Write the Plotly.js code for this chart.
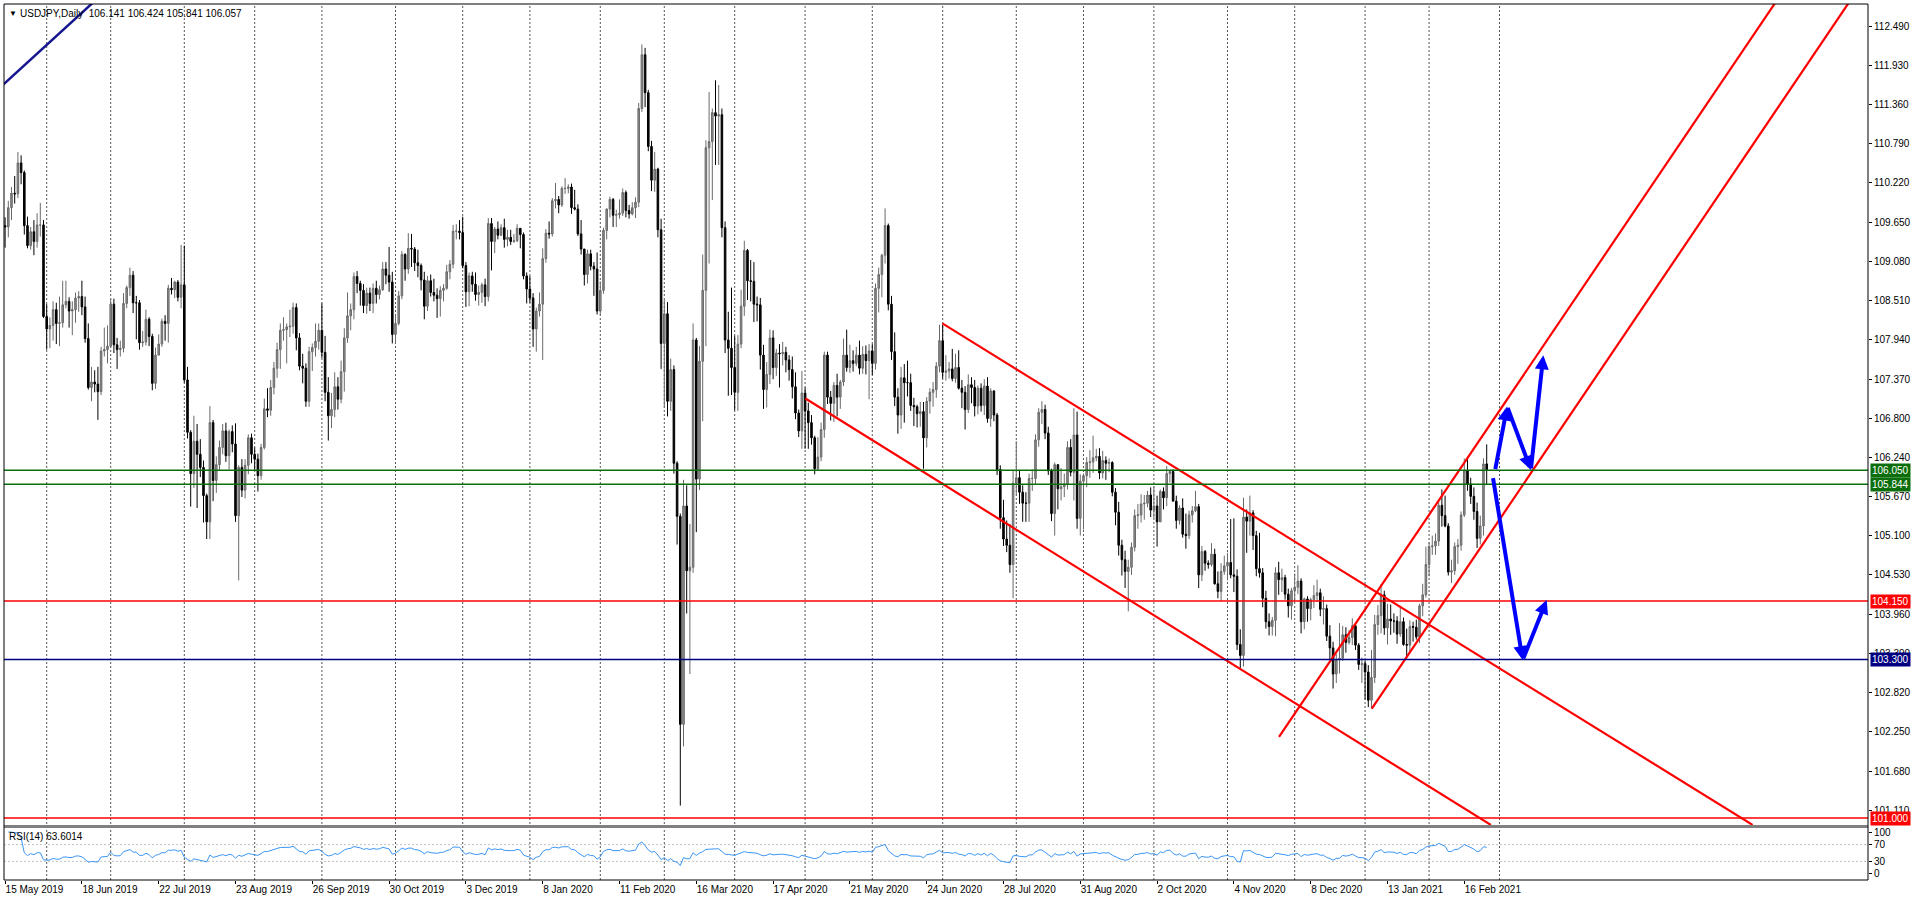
<!DOCTYPE html>
<html><head><meta charset="utf-8">
<script src="https://cdn.plot.ly/plotly-3.0.1.min.js"></script>
<style>html,body{margin:0;padding:0;background:#fff;overflow:hidden}#chart{width:1919px;height:901px}</style>
</head><body><div id="chart"></div>
<script>
// ---------- DATA (USDJPY Daily, bar index 0 = 15 May 2019) ----------
const opens = [
109.60,109.58,109.86,110.07,110.06,110.51,110.37,109.60,109.31,109.51,109.37,109.61,109.61,
108.28,108.10,108.15,108.38,108.18,108.19,108.45,108.50,108.36,108.38,108.55,108.57,108.42,107.96,107.25,107.33,107.30,107.19,107.78,107.80,
107.85,108.46,107.87,107.80,107.82,108.47,108.70,108.88,108.48,108.48,107.90,107.91,108.24,107.99,107.31,107.72,107.88,108.21,108.18,108.69,108.67,108.78,108.56,
108.74,107.36,106.60,106.00,106.47,106.28,106.09,105.68,105.30,106.74,105.90,106.13,106.38,106.62,106.26,106.61,106.43,105.39,106.09,105.76,106.12,106.52,
106.28,106.21,105.97,106.38,106.94,106.92,107.25,107.53,107.80,108.08,108.09,108.13,108.14,108.41,107.97,107.56,107.53,107.05,107.77,107.83,107.92,
108.08,107.76,107.18,106.84,106.93,107.26,107.08,107.48,107.97,108.29,108.38,108.86,108.76,108.66,108.44,108.62,108.47,108.69,108.60,108.67,108.97,108.88,108.78,
108.02,108.18,108.58,109.18,108.97,109.27,109.26,109.06,109.02,108.81,108.43,108.80,108.63,108.59,108.54,108.66,108.69,108.93,109.04,109.52,109.52,
109.50,109.02,108.64,108.87,108.75,108.60,108.63,108.74,108.57,109.63,109.37,109.55,109.46,109.57,109.40,109.43,109.37,109.38,109.56,109.47,108.87,
108.68,108.55,108.10,108.36,108.46,109.12,109.49,109.48,109.96,109.98,109.90,110.14,110.14,110.16,109.86,109.84,109.48,109.26,108.89,109.19,109.01,108.97,
108.36,108.66,109.53,109.84,109.98,109.75,109.76,109.78,110.08,109.82,109.77,109.86,109.94,111.30,112.08,111.53,110.75,110.26,110.42,109.54,
107.89,108.32,107.05,107.51,106.15,105.38,102.36,105.53,104.59,104.64,107.94,105.92,107.63,108.66,110.73,110.82,111.24,111.19,111.21,109.57,107.94,107.82,
107.54,107.18,107.88,108.43,109.24,108.80,108.79,108.46,108.45,107.72,107.22,107.44,107.97,107.54,107.75,107.74,107.76,107.65,107.51,107.26,106.88,106.62,
107.17,106.91,106.74,106.52,106.07,106.24,106.64,107.72,107.11,107.02,107.28,107.11,107.33,107.72,107.54,107.64,107.60,107.72,107.53,107.73,107.64,
107.78,107.60,108.69,108.89,109.17,109.60,108.46,107.77,107.11,106.85,107.39,107.32,107.32,106.99,106.97,106.87,106.90,106.52,107.05,107.18,107.22,107.56,
107.93,107.47,107.49,107.52,107.38,107.54,107.24,107.18,106.93,107.29,107.25,106.98,107.24,106.99,107.27,106.80,107.20,106.85,106.06,105.36,105.05,104.96,104.68,
105.86,105.94,105.73,105.57,105.57,105.93,105.93,106.49,106.89,106.93,106.59,106.04,105.42,106.13,105.78,105.81,105.85,106.38,106.02,106.56,105.35,
105.89,105.97,106.16,106.17,106.23,106.25,106.01,106.19,106.15,106.16,105.73,105.44,104.96,104.75,104.58,104.64,104.93,105.39,105.40,105.56,105.57,105.69,
105.47,105.53,105.30,105.74,105.65,106.00,106.03,105.60,105.32,105.50,105.12,105.10,105.40,105.46,105.52,104.53,104.87,104.70,104.68,104.83,104.40,104.29,104.58,
104.66,104.71,104.53,104.51,103.52,103.36,105.37,105.31,105.43,105.10,104.62,104.56,104.19,103.85,103.78,103.87,104.56,104.46,104.49,104.25,104.08,
104.30,104.35,104.44,103.85,104.18,104.04,104.17,104.23,104.27,104.03,104.04,103.64,103.47,103.09,103.30,103.32,103.66,103.55,103.62,103.79,103.51,103.23,
103.24,103.12,102.71,103.04,103.81,103.94,104.24,103.76,103.89,103.86,103.86,103.67,103.85,103.52,103.51,103.78,103.77,103.63,104.08,104.24,
104.68,104.94,104.95,105.02,105.54,105.39,105.24,104.57,104.59,104.94,104.96,105.40,106.04,105.85,105.67,105.45,105.06,105.24,106.141];

const highs = [
109.72,109.96,110.16,110.32,110.67,110.62,110.40,109.73,109.58,109.68,109.78,109.93,109.68,
108.46,108.27,108.50,108.48,108.57,108.80,108.80,108.56,108.50,108.63,108.65,108.80,108.57,108.18,107.55,107.50,107.55,107.84,108.12,108.15,
108.54,108.54,107.97,107.93,108.62,108.73,108.99,108.94,108.58,108.52,108.07,108.38,108.27,108.03,107.83,108.02,108.25,108.30,108.74,108.84,108.80,108.81,109.32,
109.31,107.55,106.63,106.84,106.72,106.50,106.19,105.71,106.98,106.78,106.25,106.48,106.72,106.74,106.64,106.70,106.73,106.12,106.21,106.21,106.57,106.58,
106.38,106.29,106.43,107.09,107.24,107.36,107.62,107.90,108.18,108.27,108.18,108.38,108.48,108.47,108.04,107.74,107.60,107.84,107.89,108.18,108.18,
108.47,108.00,107.40,107.17,107.47,107.40,107.64,108.11,108.63,108.47,108.92,108.94,108.80,108.75,108.70,108.70,108.76,108.80,108.73,109.07,109.07,109.29,108.93,
108.30,108.65,109.23,109.20,109.49,109.48,109.29,109.25,109.05,108.93,108.87,108.89,108.83,108.69,108.72,108.75,109.03,109.10,109.61,109.62,109.68,
109.73,109.07,108.92,108.93,108.92,108.73,108.77,108.83,109.71,109.71,109.58,109.66,109.62,109.70,109.54,109.54,109.48,109.62,109.56,109.50,108.92,
108.87,108.62,108.41,108.63,109.27,109.55,109.66,110.00,110.22,110.03,110.17,110.29,110.20,110.21,110.12,109.91,109.68,109.26,109.25,109.25,109.07,109.21,
108.79,109.57,109.85,110.02,110.00,109.83,109.98,110.14,110.11,109.90,109.94,110.01,111.38,112.23,112.18,111.57,110.83,110.67,110.44,109.70,
108.52,108.49,107.67,107.57,106.18,105.42,105.91,105.83,105.27,108.18,107.97,107.85,109.18,110.84,111.54,111.30,111.71,111.64,111.30,109.66,108.35,108.70,
108.00,108.01,108.67,109.38,109.26,109.10,109.07,108.57,108.55,107.87,107.62,108.09,108.08,107.81,107.88,107.91,107.84,107.72,107.70,107.47,106.93,107.49,
107.25,107.03,106.85,106.55,106.53,106.74,107.77,107.77,107.20,107.33,107.45,107.36,107.96,108.09,107.87,107.79,107.84,107.93,107.85,107.86,107.88,
107.88,108.76,108.99,109.19,109.85,109.63,108.58,108.05,107.24,107.55,107.59,107.64,107.45,107.10,107.00,107.04,107.04,107.11,107.24,107.33,107.62,108.16,
108.16,107.72,107.62,107.81,107.74,107.79,107.36,107.27,107.44,107.40,107.36,107.28,107.31,107.37,107.40,107.24,107.21,106.88,106.12,105.62,105.32,105.27,106.05,
106.47,106.05,105.83,105.73,106.00,106.06,106.57,106.95,107.05,107.00,106.68,106.07,106.16,106.13,106.08,106.00,106.47,106.50,106.95,106.90,105.99,
106.00,106.24,106.34,106.55,106.36,106.37,106.33,106.25,106.22,106.18,105.79,105.59,105.04,104.88,104.75,105.00,105.48,105.56,105.70,105.69,105.75,105.80,
105.81,105.68,105.77,105.80,106.11,106.05,106.06,105.68,105.54,105.64,105.42,105.46,105.53,105.75,105.56,104.95,104.89,104.74,104.99,104.91,104.58,104.70,104.81,
104.85,105.34,105.35,104.61,103.74,105.65,105.48,105.68,105.47,105.17,105.14,104.63,104.30,103.97,103.92,104.64,104.72,104.62,104.53,104.33,104.34,
104.55,104.67,104.48,104.20,104.22,104.20,104.38,104.46,104.33,104.22,104.10,103.80,103.56,103.38,103.83,103.79,103.77,103.73,103.90,103.81,103.54,103.33,
103.29,103.22,103.44,103.95,104.09,104.40,104.30,104.11,104.10,103.97,103.93,104.08,103.91,103.75,103.87,103.85,103.88,104.11,104.40,104.94,
105.00,105.10,105.13,105.59,105.77,105.68,105.28,104.75,105.00,105.05,105.45,106.22,106.22,105.94,105.80,105.58,105.39,106.22,106.424];

const lows = [
109.28,109.43,109.68,109.92,110.00,110.20,109.47,109.27,109.25,109.17,109.28,109.44,108.26,
107.80,107.82,107.93,107.88,107.85,108.12,108.40,108.12,108.01,108.19,108.35,108.30,107.90,107.22,107.05,107.18,106.78,107.14,107.70,107.60,
107.83,107.75,107.52,107.70,107.76,108.40,108.58,108.33,107.95,107.80,107.84,107.86,107.85,107.21,107.23,107.72,107.84,107.93,107.90,108.60,108.55,108.50,108.40,
107.32,106.51,105.52,105.79,105.50,105.95,105.29,105.05,105.05,105.60,105.72,106.04,106.28,106.17,106.06,106.31,105.30,104.45,105.66,105.64,105.99,106.15,
106.05,105.74,105.91,106.35,106.82,106.84,107.15,107.39,107.52,107.93,107.60,107.98,108.03,107.79,107.50,107.31,106.97,106.97,107.49,107.70,107.80,
107.68,107.05,106.48,106.66,106.82,106.93,107.02,107.19,107.90,108.08,108.24,108.62,108.44,108.33,108.32,108.36,108.33,108.47,108.53,108.65,108.75,108.64,107.89,
107.89,108.15,108.53,108.80,108.90,109.00,108.94,108.85,108.66,108.24,108.36,108.57,108.50,108.26,108.28,108.50,108.67,108.82,108.98,109.40,109.40,
108.98,108.42,108.43,108.64,108.51,108.44,108.48,108.43,108.50,108.95,109.20,109.40,109.45,109.28,109.30,109.32,109.35,109.36,109.27,108.82,108.47,
108.48,107.84,107.77,108.28,107.65,109.06,109.41,109.44,109.85,109.78,109.87,110.06,110.07,109.77,109.82,109.45,109.18,108.73,108.76,108.95,108.58,108.31,
108.30,108.61,109.40,109.72,109.58,109.58,109.70,109.74,109.72,109.70,109.75,109.71,109.87,111.25,111.32,110.68,110.10,110.09,109.43,107.52,
106.96,106.83,106.91,106.00,104.97,101.18,102.04,103.97,103.09,104.56,105.15,105.76,106.76,107.85,109.05,109.97,110.48,110.48,109.43,107.75,107.13,107.14,
106.92,106.91,107.82,108.29,108.52,108.50,108.20,108.21,107.51,106.94,106.96,107.30,107.37,107.42,107.25,107.57,107.47,107.35,107.09,106.79,106.53,106.36,
106.36,106.36,106.42,105.99,106.05,106.18,106.52,107.01,106.77,106.75,106.83,106.94,107.27,107.48,107.46,107.48,107.56,107.44,107.45,107.44,107.08,
107.43,107.51,108.34,108.56,109.05,108.37,107.65,106.98,106.58,106.65,106.74,107.12,106.91,106.69,106.67,106.68,106.07,106.38,106.87,106.97,107.10,107.47,
107.38,107.35,107.38,107.34,107.32,107.22,106.95,106.64,106.88,107.02,106.83,106.86,106.90,106.85,106.74,106.68,106.76,105.98,105.20,104.95,104.86,104.56,104.19,
105.69,105.56,105.30,105.30,105.30,105.75,105.84,106.39,106.72,106.50,105.98,105.31,105.10,105.48,105.61,105.66,105.77,105.96,105.61,105.20,105.10,
105.19,105.80,105.94,106.01,106.18,105.92,105.93,105.91,106.02,105.67,105.25,104.81,104.52,104.34,104.00,104.53,104.87,105.20,105.29,105.33,105.51,105.37,
105.35,104.94,105.30,105.48,105.53,105.87,105.60,105.20,105.26,105.07,104.91,105.05,105.29,105.44,104.34,104.44,104.59,104.62,104.65,104.39,104.19,104.15,104.53,
104.45,104.48,104.28,103.44,103.18,103.20,104.85,105.10,104.89,104.51,104.49,104.06,103.75,103.65,103.65,103.64,104.24,104.28,104.17,103.91,103.88,
104.13,104.25,103.68,103.74,103.85,103.87,104.05,104.14,103.93,103.81,103.57,103.31,102.88,102.96,103.10,103.28,103.40,103.52,103.51,103.44,103.15,102.96,
102.72,102.61,102.59,102.96,103.66,103.68,103.66,103.52,103.66,103.69,103.53,103.63,103.50,103.33,103.42,103.56,103.59,103.54,103.93,104.20,
104.51,104.82,104.82,104.95,105.23,105.22,104.52,104.41,104.53,104.69,104.88,105.37,105.75,105.56,105.33,104.92,104.97,105.10,105.841];

const closes = [
109.58,109.86,110.07,110.06,110.51,110.37,109.60,109.31,109.51,109.37,109.61,109.61,108.28,
108.10,108.15,108.38,108.18,108.19,108.45,108.50,108.36,108.38,108.55,108.57,108.42,107.96,107.25,107.33,107.30,107.19,107.78,107.80,107.85,
108.46,107.87,107.80,107.82,108.47,108.70,108.88,108.48,108.48,107.90,107.91,108.24,107.99,107.31,107.72,107.88,108.21,108.18,108.69,108.67,108.78,108.56,108.74,
107.36,106.60,106.00,106.47,106.28,106.09,105.68,105.30,106.74,105.90,106.13,106.38,106.62,106.26,106.61,106.43,105.39,106.09,105.76,106.12,106.52,106.28,
106.21,105.97,106.38,106.94,106.92,107.25,107.53,107.80,108.08,108.09,108.13,108.14,108.41,107.97,107.56,107.53,107.05,107.77,107.83,107.92,108.08,
107.76,107.18,106.84,106.93,107.26,107.08,107.48,107.97,108.29,108.38,108.86,108.76,108.66,108.44,108.62,108.47,108.69,108.60,108.67,108.97,108.88,108.78,108.02,
108.18,108.58,109.18,108.97,109.27,109.26,109.06,109.02,108.81,108.43,108.80,108.63,108.59,108.54,108.66,108.69,108.93,109.04,109.52,109.52,109.50,
109.02,108.64,108.87,108.75,108.60,108.63,108.74,108.57,109.63,109.37,109.55,109.46,109.57,109.40,109.43,109.37,109.38,109.56,109.47,108.87,108.68,
108.55,108.10,108.36,108.46,109.12,109.49,109.48,109.96,109.98,109.90,110.14,110.14,110.16,109.86,109.84,109.48,109.26,108.89,109.19,109.01,108.97,108.36,
108.66,109.53,109.84,109.98,109.75,109.76,109.78,110.08,109.82,109.77,109.86,109.94,111.30,112.08,111.53,110.75,110.26,110.42,109.54,107.89,
108.32,107.05,107.51,106.15,105.38,102.36,105.53,104.59,104.64,107.94,105.92,107.63,108.66,110.73,110.82,111.24,111.19,111.21,109.57,107.94,107.82,107.54,
107.18,107.88,108.43,109.24,108.80,108.79,108.46,108.45,107.72,107.22,107.44,107.97,107.54,107.75,107.74,107.76,107.65,107.51,107.26,106.88,106.62,107.17,
106.91,106.74,106.52,106.07,106.24,106.64,107.72,107.11,107.02,107.28,107.11,107.33,107.72,107.54,107.64,107.60,107.72,107.53,107.73,107.64,107.78,
107.60,108.69,108.89,109.17,109.60,108.46,107.77,107.11,106.85,107.39,107.32,107.32,106.99,106.97,106.87,106.90,106.52,107.05,107.18,107.22,107.56,107.93,
107.47,107.49,107.52,107.38,107.54,107.24,107.18,106.93,107.29,107.25,106.98,107.24,106.99,107.27,106.80,107.20,106.85,106.06,105.36,105.05,104.96,104.68,105.86,
105.94,105.73,105.57,105.57,105.93,105.93,106.49,106.89,106.93,106.59,106.04,105.42,106.13,105.78,105.81,105.85,106.38,106.02,106.56,105.35,105.89,
105.97,106.16,106.17,106.23,106.25,106.01,106.19,106.15,106.16,105.73,105.44,104.96,104.75,104.58,104.64,104.93,105.39,105.40,105.56,105.57,105.69,105.47,
105.53,105.30,105.74,105.65,106.00,106.03,105.60,105.32,105.50,105.12,105.10,105.40,105.46,105.52,104.53,104.87,104.70,104.68,104.83,104.40,104.29,104.58,104.66,
104.71,104.53,104.51,103.52,103.36,105.37,105.31,105.43,105.10,104.62,104.56,104.19,103.85,103.78,103.87,104.56,104.46,104.49,104.25,104.08,104.30,
104.35,104.44,103.85,104.18,104.04,104.17,104.23,104.27,104.03,104.04,103.64,103.47,103.09,103.30,103.32,103.66,103.55,103.62,103.79,103.51,103.23,103.24,
103.12,102.71,103.04,103.81,103.94,104.24,103.76,103.89,103.86,103.86,103.67,103.85,103.52,103.51,103.78,103.77,103.63,104.08,104.24,104.68,
104.94,104.95,105.02,105.54,105.39,105.24,104.57,104.59,104.94,104.96,105.40,106.04,105.85,105.67,105.45,105.06,105.24,106.14,106.057];

// date axis labels (every 24 bars) and month-start grid bars
const dateLabels = ['15 May 2019','18 Jun 2019','22 Jul 2019','23 Aug 2019','26 Sep 2019','30 Oct 2019','3 Dec 2019','8 Jan 2020','11 Feb 2020','16 Mar 2020','17 Apr 2020','21 May 2020','24 Jun 2020','28 Jul 2020','31 Aug 2020','2 Oct 2020','4 Nov 2020','8 Dec 2020','13 Jan 2021','16 Feb 2021'];
const labelBars = [0,24,48,72,96,120,144,168,192,216,240,264,288,312,336,360,384,408,432,456];
const monthStartBars = [13,33,56,78,99,122,143,164,186,206,228,250,271,293,316,337,359,382,403,425,445,467];

// price scale ticks
const priceTicks = [112.49,111.93,111.36,110.79,110.22,109.65,109.08,108.51,107.94,107.37,106.80,106.24,105.67,105.10,104.53,103.96,103.39,102.82,102.25,101.68,101.11];
const rsiTicks = [100,70,30,0];
const rsiLevels = [70,30];

// horizontal levels
const levelValues = [106.050,105.844,104.150,103.300,101.000];
const levelColors = ['#0b6e0b','#0b6e0b','#ff0000','#000080','#ff0000'];

// drawn trend lines: [bar, price] endpoints
const trendDownUpperBars = [292.9,546.1],  trendDownUpperPrices = [108.18,100.90];
const trendDownLowerBars = [250.1,464.3],  trendDownLowerPrices = [107.09,100.90];
const trendUpLeftBars    = [398.1,555.0],  trendUpLeftPrices    = [102.18,112.96];
const trendUpRightBars   = [427.1,580.0],  trendUpRightPrices   = [102.59,113.10];
const blueLineBars       = [-0.5,28.0],    blueLinePrices       = [111.65,112.86];

// forecast arrows: tail bar, tail price, tip bar, tip price
const arrowTailBars   = [465.6,469.4,476.8,464.9,474.25];
const arrowTailPrices = [106.044,106.974,106.054,105.957,103.293];
const arrowTipBars    = [469.4,476.8,480.7,474.25,481.75];
const arrowTipPrices  = [106.974,106.054,107.717,103.293,104.165];

const titleText = 'USDJPY,Daily  106.141 106.424 105.841 106.057';
const rsiText = 'RSI(14) 63.6014';

// ---------- BUILD ----------
const idx = closes.map((_, i) => i);

function computeRsi(c, n) {
  const out = []; let ag = 0, al = 0;
  for (let i = 1; i < c.length; i++) {
    const d = c[i] - c[i-1]; const g = Math.max(d, 0), l = Math.max(-d, 0);
    if (i <= n) { ag = (ag*(i-1)+g)/i; al = (al*(i-1)+l)/i; }
    else { ag = (ag*(n-1)+g)/n; al = (al*(n-1)+l)/n; }
    out.push(al === 0 ? 100 : 100 - 100/(1 + ag/al));
  }
  return out;
}
const rsi = computeRsi(closes, 14);

const FONT = 'Liberation Sans, Arial, sans-serif';
const traces = [];
traces.push({
  type:'candlestick', x: idx, open: opens, high: highs, low: lows, close: closes,
  xaxis:'x', yaxis:'y', whiskerwidth:0, hoverinfo:'none',
  increasing:{line:{color:'#6a6a6a', width:1}, fillcolor:'#8e8e8e'},
  decreasing:{line:{color:'#000000', width:1}, fillcolor:'#000000'}
});
function seg(bx, py, color, w) {
  traces.push({type:'scatter', mode:'lines', x: bx, y: py, xaxis:'x', yaxis:'y', hoverinfo:'none',
    line:{color: color, width: w}});
}
seg(trendDownUpperBars, trendDownUpperPrices, '#ff0000', 2.2);
seg(trendDownLowerBars, trendDownLowerPrices, '#ff0000', 2.2);
seg(trendUpLeftBars, trendUpLeftPrices, '#ff0000', 2.2);
seg(trendUpRightBars, trendUpRightPrices, '#ff0000', 2.2);
seg(blueLineBars, blueLinePrices, '#15158f', 2.5);
traces.push({type:'scatter', mode:'lines', x: idx.slice(1), y: rsi, xaxis:'x', yaxis:'y2', hoverinfo:'none',
  line:{color:'#3a95f5', width:1}});

// plot geometry: plot area y from 4 to 880 (876 px)
const mainBottom = (880-825)/876, rsiTop = (880-828)/876;
const shapes = [];
monthStartBars.forEach(b => shapes.push({type:'line', xref:'x', yref:'paper', x0:b, x1:b, y0:0, y1:1,
  line:{color:'#555555', width:1, dash:'2px,2px'}, layer:'below'}));
levelValues.forEach((v, i) => shapes.push({type:'line', xref:'paper', yref:'y', x0:0, x1:1, y0:v, y1:v,
  line:{color: levelColors[i], width:1.5}, layer:'above'}));
rsiLevels.forEach(v => shapes.push({type:'line', xref:'paper', yref:'y2', x0:0, x1:1, y0:v, y1:v,
  line:{color:'#c0c0c0', width:1, dash:'2px,2px'}, layer:'below'}));
shapes.push({type:'rect', xref:'paper', yref:'paper', x0:0, x1:1, y0:rsiTop, y1:mainBottom,
  fillcolor:'#808080', line:{width:0}, layer:'above'});
shapes.push({type:'rect', xref:'paper', yref:'paper', x0:0, x1:1, y0:0, y1:1,
  fillcolor:'rgba(0,0,0,0)', line:{color:'#000', width:1}, layer:'above'});

const annotations = [];
annotations.push({xref:'paper', yref:'paper', x:0, y:(880-13)/876, xanchor:'left', yanchor:'middle', xshift:3,
  text:'▼', showarrow:false, font:{family:FONT, size:8, color:'#000'}});
annotations.push({xref:'paper', yref:'paper', x:0, y:(880-13)/876, xanchor:'left', yanchor:'middle', xshift:14,
  text: titleText, showarrow:false, font:{family:FONT, size:10, color:'#000'}});
annotations.push({xref:'paper', yref:'paper', x:0, y:(880-836)/876, xanchor:'left', yanchor:'middle', xshift:3,
  text: rsiText, showarrow:false, font:{family:FONT, size:10, color:'#000'}});
levelValues.forEach((v, i) => annotations.push({xref:'paper', yref:'y', x:1, y:v, xanchor:'left', yanchor:'middle',
  xshift:2, text: v.toFixed(3), showarrow:false, bgcolor: levelColors[i], borderpad:1,
  font:{family:FONT, size:10, color:'#ffffff'}}));
arrowTipBars.forEach((b, i) => annotations.push({xref:'x', yref:'y', axref:'x', ayref:'y',
  x: b, y: arrowTipPrices[i], ax: arrowTailBars[i], ay: arrowTailPrices[i], text:'', showarrow:true,
  arrowhead:2, arrowsize:0.7, arrowwidth:4, arrowcolor:'#0000ff', standoff:0, startstandoff:0}));

const layout = {
  width:1919, height:901, margin:{l:4, r:51, t:4, b:21, pad:0},
  paper_bgcolor:'#ffffff', plot_bgcolor:'#ffffff', showlegend:false,
  font:{family:FONT, size:10, color:'#000'},
  xaxis:{range:[-0.344, 582.16], anchor:'y2', tickmode:'array', tickvals: labelBars, ticktext: dateLabels,
    ticklabelposition:'outside right', ticks:'outside', ticklen:3, tickcolor:'#000',
    showgrid:false, zeroline:false, showline:false, rangeslider:{visible:false}, fixedrange:true,
    tickfont:{family:FONT, size:10, color:'#000'}},
  yaxis:{domain:[mainBottom, 1], range:[100.899, 112.817], side:'right', anchor:'x', tickmode:'array',
    tickvals: priceTicks, ticktext: priceTicks.map(v => v.toFixed(3)), ticks:'outside', ticklen:3, tickcolor:'#000',
    showgrid:false, zeroline:false, showline:false, fixedrange:true, tickfont:{family:FONT, size:10, color:'#000'}},
  yaxis2:{domain:[0, rsiTop], range:[-14.6, 109.8], side:'right', anchor:'x', tickmode:'array',
    tickvals: rsiTicks, ticktext: rsiTicks.map(String), ticks:'outside', ticklen:3, tickcolor:'#000',
    showgrid:false, zeroline:false, showline:false, fixedrange:true, tickfont:{family:FONT, size:10, color:'#000'}},
  shapes: shapes, annotations: annotations
};
Plotly.newPlot('chart', traces, layout, {staticPlot:true, displayModeBar:false});
</script></body></html>
